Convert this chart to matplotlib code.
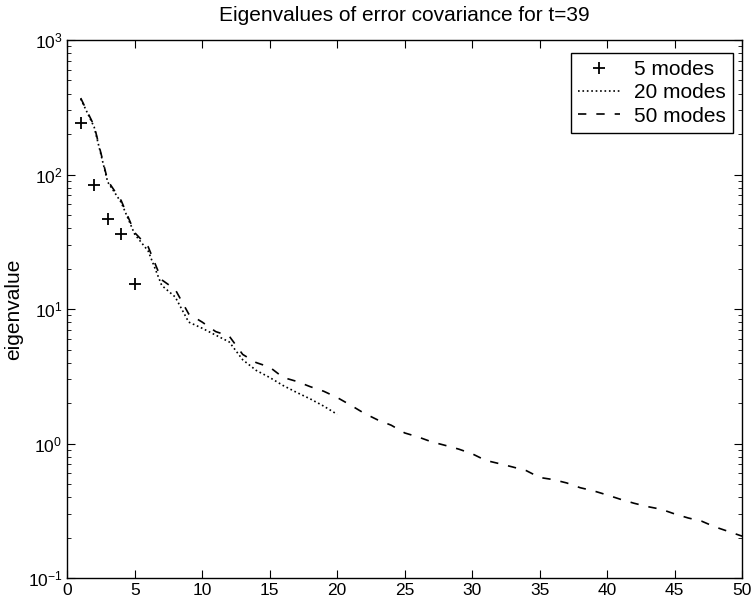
import matplotlib
matplotlib.use('Agg')
import matplotlib.pyplot as plt
import numpy as np

plt.rcParams['font.family'] = ['Liberation Sans', 'DejaVu Sans']

# Eigenvalues
modes5_x = [1, 2, 3, 4, 5]
modes5_y = [240, 84, 47, 36, 15.3]

modes20_x = list(range(1, 21))
modes20_y = [365, 225, 88, 62, 36, 27, 15, 12.3, 8.0, 7.2,
             6.4, 5.7, 4.2, 3.5, 3.1, 2.7, 2.4, 2.15, 1.9, 1.65]

modes50_x = list(range(1, 51))
modes50_y = [370, 230, 90, 64, 37, 29, 16.5, 14, 9.2, 8.0,
             6.8, 6.3, 4.6, 4.0, 3.7, 3.1, 2.9, 2.65, 2.45, 2.2,
             1.93, 1.68, 1.5, 1.37, 1.2, 1.12, 1.03, 0.97, 0.91, 0.84,
             0.75, 0.71, 0.67, 0.63, 0.56, 0.54, 0.51, 0.47, 0.445, 0.415,
             0.385, 0.36, 0.34, 0.325, 0.30, 0.28, 0.265, 0.24, 0.222, 0.205]

x_ticks = [0, 5, 10, 15, 20, 25, 30, 35, 40, 45, 50]

fig = plt.figure(figsize=(7.55, 6.06), dpi=100)
ax = fig.add_axes([0.089, 0.046, 0.894, 0.888])

ax.semilogy(modes5_x, modes5_y, '+', color='black', markersize=9,
            markeredgewidth=1.3, label='5 modes')
ax.semilogy(modes20_x, modes20_y, ':', color='black', linewidth=1.2,
            label='20 modes')
ax.semilogy(modes50_x, modes50_y, '--', color='black', linewidth=1.2,
            dashes=(5, 6), label='50 modes')

# Axes and ticks (matlab-ish look)
ax.set_xlim(0, 50)
ax.set_ylim(1e-1, 1e3)
ax.set_xticks(x_ticks)
ax.tick_params(which='both', direction='in', top=True, right=True,
               labelsize=12.5)
ax.tick_params(which='major', length=6)
ax.tick_params(which='minor', length=3)
for side in ax.spines.values():
    side.set_linewidth(1.0)

ax.set_ylabel('eigenvalue', fontsize=15, labelpad=3)
ax.set_title('Eigenvalues of error covariance for t=39', fontsize=15, pad=14)

# Legend box, top right corner
leg = ax.legend(loc='upper right', fontsize=15, fancybox=False,
                edgecolor='black', framealpha=1, handlelength=2.0,
                borderpad=0.35, labelspacing=0.2, handletextpad=0.7,
                borderaxespad=0, bbox_to_anchor=(0.987, 0.976))
leg.get_frame().set_linewidth(1.0)

fig.savefig('out.png', dpi=100)
